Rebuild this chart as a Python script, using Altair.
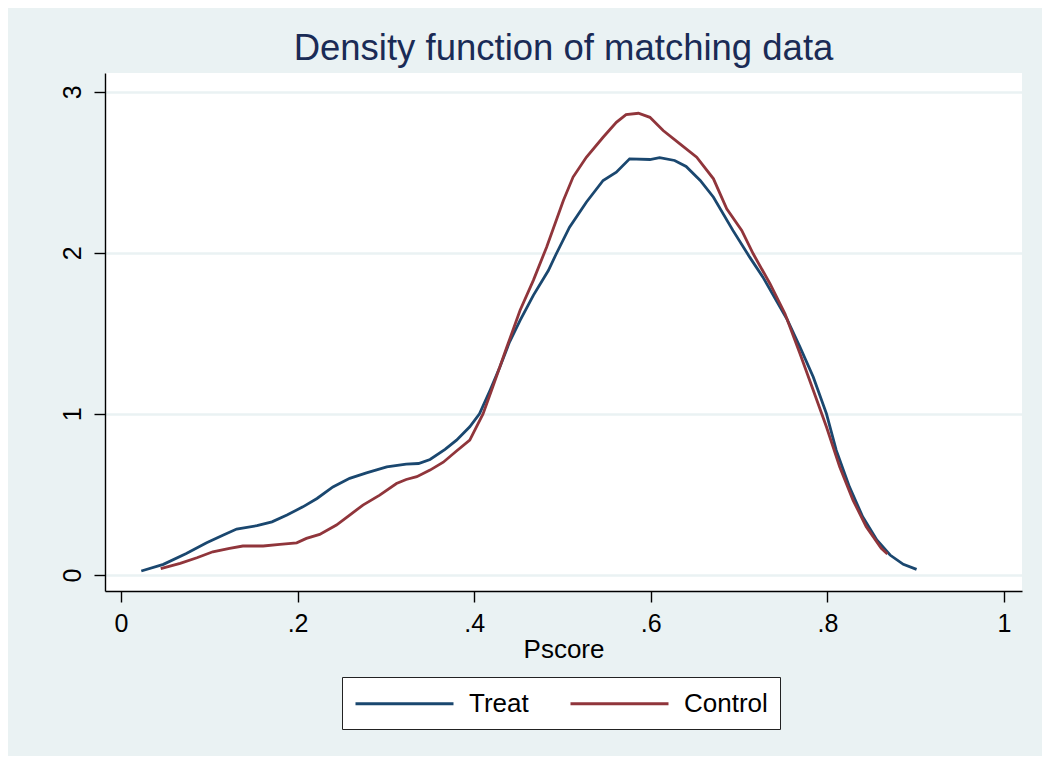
import altair as alt
import pandas as pd

# ---- data ----
treat_x = [0.023, 0.048, 0.074, 0.097, 0.116, 0.131, 0.154, 0.171, 0.188, 0.206,
           0.222, 0.240, 0.259, 0.278, 0.301, 0.323, 0.337, 0.350, 0.367, 0.380,
           0.395, 0.406, 0.418, 0.429, 0.440, 0.452, 0.467, 0.484, 0.493, 0.508,
           0.527, 0.546, 0.561, 0.576, 0.599, 0.610, 0.627, 0.640, 0.656, 0.671,
           0.693, 0.712, 0.727, 0.742, 0.754, 0.769, 0.784, 0.799, 0.810, 0.825,
           0.840, 0.856, 0.871, 0.886, 0.901]
treat_y = [0.025, 0.066, 0.134, 0.200, 0.248, 0.285, 0.306, 0.330, 0.372, 0.423,
           0.475, 0.547, 0.600, 0.634, 0.671, 0.688, 0.692, 0.717, 0.780, 0.837,
           0.920, 1.000, 1.147, 1.290, 1.446, 1.580, 1.736, 1.890, 1.994, 2.159,
           2.314, 2.449, 2.500, 2.583, 2.579, 2.590, 2.573, 2.536, 2.449, 2.345,
           2.139, 1.973, 1.849, 1.705, 1.591, 1.415, 1.229, 1.000, 0.775, 0.547,
           0.361, 0.217, 0.124, 0.066, 0.035]

control_x = [0.045, 0.067, 0.086, 0.104, 0.123, 0.138, 0.161, 0.180, 0.199, 0.210,
             0.225, 0.244, 0.259, 0.274, 0.293, 0.312, 0.323, 0.335, 0.350, 0.365,
             0.380, 0.395, 0.410, 0.421, 0.437, 0.452, 0.467, 0.482, 0.501, 0.512,
             0.527, 0.546, 0.561, 0.572, 0.586, 0.599, 0.614, 0.633, 0.652, 0.671,
             0.686, 0.703, 0.716, 0.735, 0.752, 0.769, 0.784, 0.799, 0.814, 0.829,
             0.844, 0.861, 0.868]
control_y = [0.039, 0.072, 0.107, 0.144, 0.165, 0.180, 0.180, 0.190, 0.200, 0.227,
             0.252, 0.310, 0.372, 0.434, 0.496, 0.568, 0.593, 0.610, 0.651, 0.700,
             0.770, 0.837, 1.000, 1.167, 1.415, 1.643, 1.829, 2.035, 2.325, 2.470,
             2.593, 2.717, 2.810, 2.858, 2.866, 2.841, 2.759, 2.676, 2.593, 2.459,
             2.273, 2.139, 1.994, 1.808, 1.622, 1.374, 1.147, 0.919, 0.671, 0.465,
             0.300, 0.166, 0.130]

series_names = ["Treat", "Control"]
series_colors = ["#1a476f", "#90353b"]

x_tick_values = [0, 0.2, 0.4, 0.6, 0.8, 1]
x_tick_labels = ["0", ".2", ".4", ".6", ".8", "1"]
y_tick_values = [0, 1, 2, 3]
y_tick_labels = ["0", "1", "2", "3"]

rows = []
for i, (x, y) in enumerate(zip(treat_x, treat_y)):
    rows.append({"pscore": x, "density": y, "group": "Treat", "order": i})
for i, (x, y) in enumerate(zip(control_x, control_y)):
    rows.append({"pscore": x, "density": y, "group": "Control", "order": i})
df = pd.DataFrame(rows)


def label_expr(values, labels):
    expr = "''"
    for v, l in reversed(list(zip(values, labels))):
        expr = f"abs(datum.value - {v}) < 1e-9 ? '{l}' : ({expr})"
    return expr


BG = "#eaf2f3"
FONT = "Liberation Sans"

chart = alt.Chart(df).mark_line(strokeWidth=2.8).encode(
    x=alt.X("pscore:Q",
            scale=alt.Scale(domain=[-0.0181, 1.0204], nice=False, zero=False),
            axis=alt.Axis(values=x_tick_values,
                          labelExpr=label_expr(x_tick_values, x_tick_labels),
                          title="Pscore", grid=False, labelPadding=9,
                          titlePadding=0)),
    y=alt.Y("density:Q",
            scale=alt.Scale(domain=[-0.0993, 3.116], nice=False, zero=False),
            axis=alt.Axis(values=y_tick_values,
                          labelExpr=label_expr(y_tick_values, y_tick_labels),
                          title=None, grid=True, gridColor=BG, gridWidth=2.5,
                          labelAngle=270, labelAlign="center",
                          labelBaseline="bottom", labelPadding=9)),
    color=alt.Color("group:N",
                    scale=alt.Scale(domain=series_names, range=series_colors),
                    legend=alt.Legend(title=None, orient="none",
                                      legendX=237, legendY=604,
                                      direction="horizontal",
                                      symbolType="M-1,0H6.538",
                                      symbolSize=676,
                                      symbolStrokeWidth=2.8,
                                      labelFontSize=26, labelFont=FONT,
                                      labelColor="black", labelOffset=86,
                                      columnPadding=35, padding=12,
                                      fillColor="white", strokeColor="#222222",
                                      labelBaseline="middle")),
    order="order:Q",
).properties(
    width=917,
    height=518,
    title=alt.TitleParams("Density function of matching data",
                          font=FONT, fontSize=36.5, fontWeight="normal",
                          color="#1a2b56", anchor="middle",
                          baseline="alphabetic", offset=11, dy=34),
    background=BG,
    padding={"left": 97, "top": 65, "right": 20, "bottom": 165},
    autosize=alt.AutoSizeParams(type="none"),
).configure_view(
    fill="white", stroke=None
).configure_axis(
    domainColor="black", domainWidth=1.4,
    tickColor="black", tickWidth=1.4, tickSize=11,
    labelFont=FONT, labelFontSize=25, labelColor="black",
    titleFont=FONT, titleFontSize=26, titleFontWeight="normal",
    titleColor="black",
)

chart.save("out.html", embed_options={"renderer": "svg", "actions": False})
